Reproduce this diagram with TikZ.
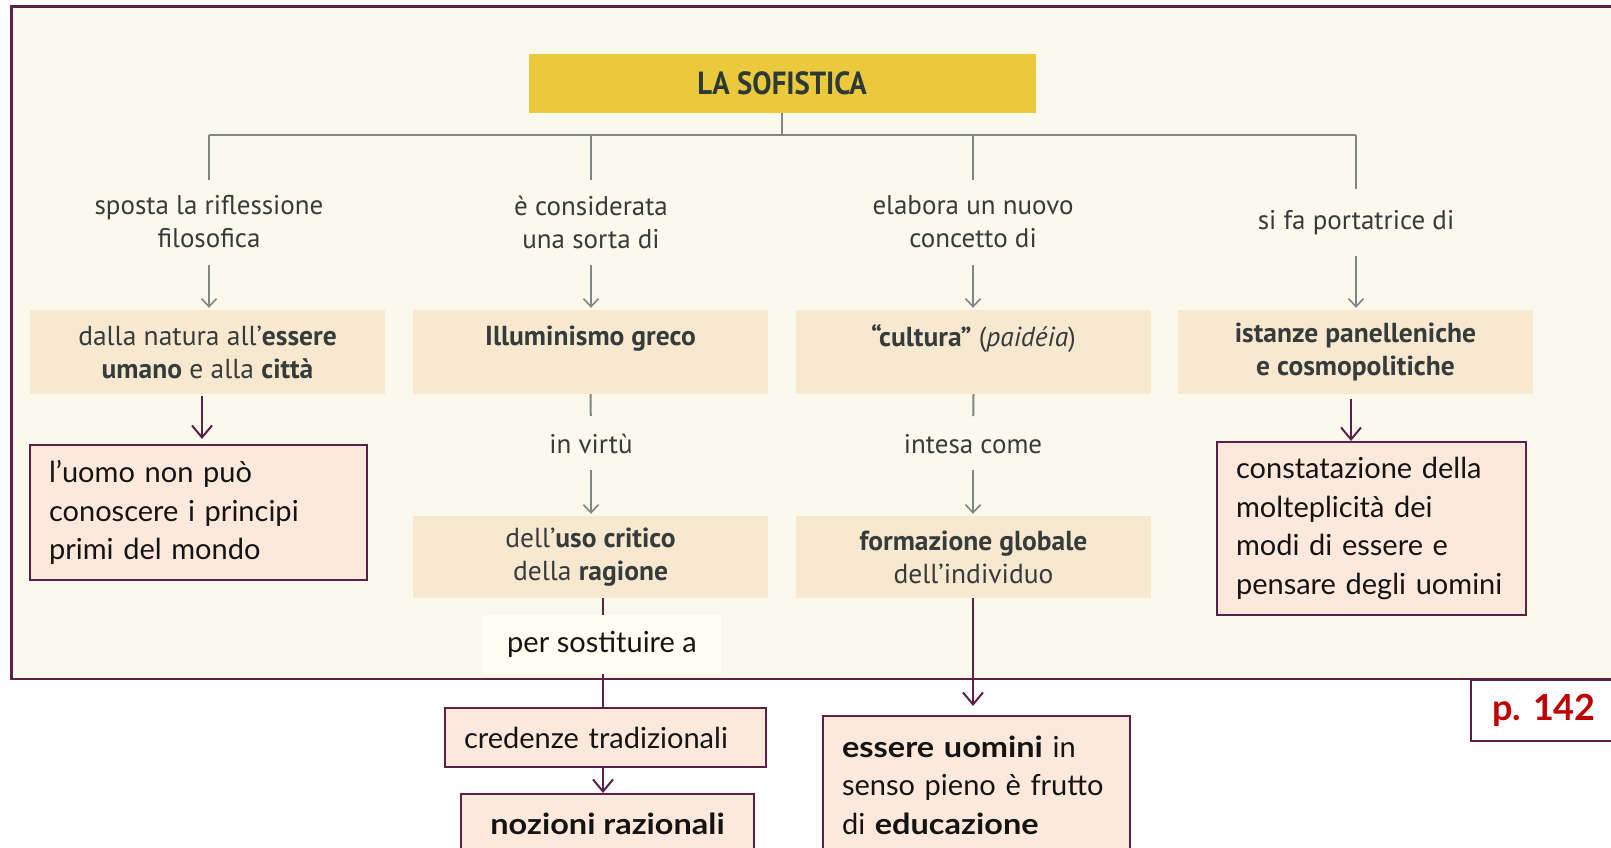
\documentclass[tikz,border=0pt]{standalone}
\usepackage{fontspec}
\setmainfont{Lato}[BoldFeatures={FakeStretch=1.12}]
\newfontfamily\pgfont{Lato}
\newfontfamily\bookfont{PT Sans}
\newfontfamily\titlefont[FakeStretch=0.9]{PT Sans}
\usetikzlibrary{arrows.meta,calc}
\definecolor{cream}{HTML}{FBF8EC}
\definecolor{beige}{HTML}{F7E8D0}
\definecolor{peach}{HTML}{FCE9DB}
\definecolor{plum}{HTML}{5B1F48}
\definecolor{grayline}{HTML}{7E8786}
\definecolor{booktext}{HTML}{363B3B}
\definecolor{titleyellow}{HTML}{ECC93C}
\definecolor{titletext}{HTML}{2B3A36}
\definecolor{lightyel}{HTML}{FFFEF0}
\definecolor{pred}{HTML}{C00000}
\tikzset{
  gl/.style={draw=grayline, line width=2pt},
  ga/.style={gl, -{Straight Barb[length=8pt,width=15pt,line width=1.6pt]}},
  pl/.style={draw=plum, line width=2.4pt},
  pa/.style={pl, -{Straight Barb[length=12pt,width=20pt,line width=2pt]}},
  lab/.style={font=\bookfont\fontsize{27}{33}\selectfont, text=booktext, align=center, inner sep=0pt},
  bbox/.style={fill=beige, minimum width=355pt, minimum height=84pt, inner sep=0pt,
    font=\bookfont\fontsize{27.5}{33}\selectfont, text=booktext, align=center},
  cbox/.style={bbox, minimum height=82pt},
  titlebox/.style={fill=titleyellow, minimum width=507pt, minimum height=59pt, inner sep=0pt,
    font=\titlefont\bfseries\fontsize{32}{32}\selectfont, text=titletext},
  pbox/.style={draw=plum, line width=2pt, fill=peach, text=black!92,
    font=\fontsize{29}{38.5}\selectfont, align=left, inner ysep=0pt, inner xsep=19pt},
}
\begin{document}
\begin{tikzpicture}[x=1pt,y=-1pt]
\useasboundingbox (0,0) rectangle (1611,848);
\fill[white] (0,0) rectangle (1611,848);
\draw[draw=plum, line width=2.4pt, fill=cream] (11.5,6.5) rectangle (1640,679);

% title
\node[titlebox] (T) at (782,83.5) {\raisebox{-3pt}{LA SOFISTICA}};

% labels
\node[lab] (l1) at (209,222) {sposta la riflessione\\filosofica};
\node[lab] (l2) at (591,222) {è considerata\\una sorta di};
\node[lab] (l3) at (973,222) {elabora un nuovo\\concetto di};
\node[lab] (l4) at (1356,223) {si fa portatrice di};

% first row boxes
\node[bbox] (b1) at (207.5,352) {dalla natura all’\textbf{essere}\\\textbf{umano} e alla \textbf{città}};
\node[bbox] (b2) at (590.5,352) {\textbf{Illuminismo greco}\\\mbox{}};
\node[bbox] (b3) at (973.5,352) {\textbf{“cultura”} (\textit{paidéia})\\\mbox{}};
\node[bbox] (b4) at (1355.5,352) {\textbf{istanze panelleniche}\\\textbf{e cosmopolitiche}};

% second row
\node[lab] (v2) at (591,444) {in virtù};
\node[lab] (v3) at (973,444) {intesa come};
\node[cbox] (c2) at (590.5,557) {dell’\textbf{uso critico}\\della \textbf{ragione}};
\node[cbox] (c3) at (973.5,557) {\textbf{formazione globale}\\dell’individuo};

% purple boxes
\node[pbox, text width=299pt, minimum height=135pt] (u1) at (198.5,512.5)
  {l’uomo non può\\conoscere i principi\\primi del mondo};
\node[pbox, text width=271pt, minimum height=173pt] (w4) at (1371.5,528.5)
  {constatazione della\\molteplicità dei\\modi di essere e\\\mbox{pensare degli uomini}};
\node[fill=lightyel, minimum width=238pt, minimum height=59pt, inner sep=0pt,
  font=\fontsize{29}{30}\selectfont, text=black!92] (s) at (602,644.5) {per sostituire a};
\node[pbox, text width=283pt, minimum height=59pt] (cr) at (605.5,737.5) {credenze tradizionali};
\node[pbox, minimum width=293pt, minimum height=60pt] (nz) at (607.5,824) {\textbf{nozioni razionali}};
\node[pbox, text width=269pt, minimum height=138pt] (e) at (976.5,785)
  {\textbf{essere uomini} in\\\mbox{senso pieno è frutto}\\di \textbf{educazione}};

% page box
\node[draw=plum, line width=2pt, fill=white, anchor=north west, minimum width=200pt,
  minimum height=61pt, inner xsep=21pt, text width=158pt, align=left, text=pred,
  font=\pgfont\bfseries\fontsize{36}{36}\selectfont] (pg) at (1470,679) {p.\ 142};

% tree connectors
\coordinate (bar) at (0,135);
\draw[gl] (T.south) -- (T.south |- bar);
\draw[gl] (l1.north |- bar) -- (l4.north |- bar);
\foreach \n in {l1,l2,l3} \draw[gl, shorten >=15.5pt] (\n.north |- bar) -- (\n.north);
\draw[gl, shorten >=21.5pt] (l4.north |- bar) -- (l4.north);
\foreach \n/\b in {l1/b1,l2/b2,l3/b3}
  \draw[ga, shorten <=16.5pt, shorten >=2pt] (\n.south) -- (\n.south |- \b.north);
\draw[ga, shorten <=20.5pt, shorten >=2pt] (l4.south) -- (l4.south |- b4.north);

\draw[gl, shorten >=18pt] (b2.south) -- (v2.north);
\draw[ga, shorten <=16pt, shorten >=2pt] (v2.south) -- (v2.south |- c2.north);
\draw[gl, shorten >=18pt] (b3.south) -- (v3.north);
\draw[ga, shorten <=16pt, shorten >=2pt] (v3.south) -- (v3.south |- c3.north);

% purple connectors
\draw[pa, shorten <=2pt, shorten >=5pt] ([xshift=-5.5pt]b1.south) -- ([xshift=-5.5pt]b1.south |- u1.north);
\draw[pa, shorten <=5pt] ([xshift=-4.5pt]b4.south) -- ([xshift=-4.5pt]b4.south |- w4.north);
\coordinate (px) at ([xshift=12.5pt]c2.south);
\draw[pl] (px) -- (px |- s.north);
\draw[pl] (px |- s.south) -- (px |- cr.north);
\draw[pa] (px |- cr.south) -- (px |- nz.north);
\draw[pa, shorten >=9pt] ([xshift=-0.5pt]c3.south) -- ([xshift=-0.5pt]c3.south |- e.north);
\end{tikzpicture}
\end{document}
